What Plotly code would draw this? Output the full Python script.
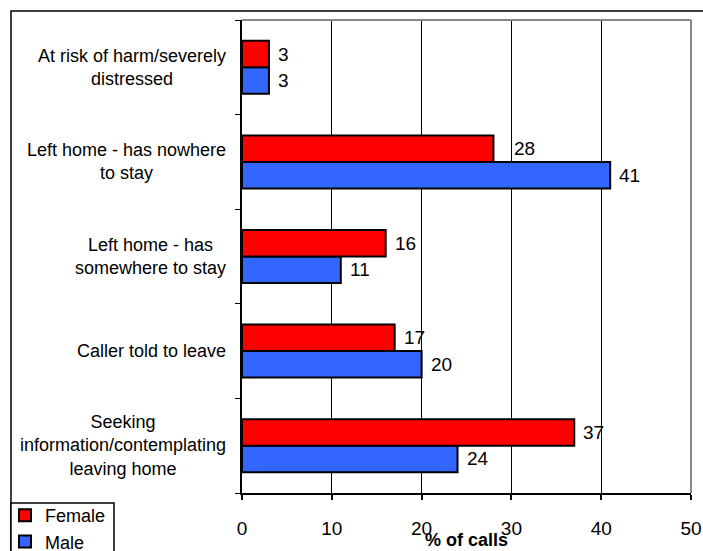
import plotly.graph_objects as go

# ---- data (top-to-bottom as shown in the chart) ----
categories = [
    "At risk of harm/severely distressed",
    "Left home - has nowhere to stay",
    "Left home - has somewhere to stay",
    "Caller told to leave",
    "Seeking information/contemplating leaving home",
]
category_labels = [
    "At risk of harm/severely<br>distressed",
    "Left home - has nowhere<br>to stay",
    "Left home - has<br>somewhere to stay",
    "Caller told to leave",
    "Seeking<br>information/contemplating<br>leaving home",
]
female = [3, 28, 16, 17, 37]
male = [3, 41, 11, 20, 24]
x_ticks = [0, 10, 20, 30, 40, 50]

# plotly draws the first category at the bottom -> reverse
cats_b = categories[::-1]
labels_b = category_labels[::-1]
female_b = female[::-1]
male_b = male[::-1]

FONT = "Arial, Liberation Sans, sans-serif"
W, H = 703, 551
L, R, T, B = 242, 12, 20, 58
pw = W - L - R
ph = H - T - B

def px_x(p):
    return (p - L) / pw

def px_y(p):
    return (H - B - p) / ph

BARGAP = 0.44
half = (1 - BARGAP) / 4  # offset of each bar centre from category centre

fig = go.Figure()
fig.add_trace(go.Bar(
    name="Male", y=cats_b, x=male_b, orientation="h",
    marker=dict(color="#3366FF", line=dict(color="black", width=2)),
    hoverinfo="x+y",
))
fig.add_trace(go.Bar(
    name="Female", y=cats_b, x=female_b, orientation="h",
    marker=dict(color="#FF0000", line=dict(color="black", width=2)),
    hoverinfo="x+y",
))

annotations = []
# value labels
label_nudge = {("Female", 3): 12}  # the "28" label sits further right
for i, (fv, mv) in enumerate(zip(female_b, male_b)):
    for name, v, off in (("Female", fv, half), ("Male", mv, -half)):
        annotations.append(dict(
            x=v, y=i + off, xref="x", yref="y", text=str(v),
            showarrow=False, xanchor="left", yanchor="middle",
            xshift=7 + label_nudge.get((name, i), 0),
            font=dict(family=FONT, size=19, color="black"),
        ))
# category labels
for i, lab in enumerate(labels_b):
    annotations.append(dict(
        x=0, y=i, xref="paper", yref="y", text=lab, showarrow=False,
        xanchor="right", yanchor="middle", align="center", xshift=-14,
        font=dict(family=FONT, size=18, color="black"),
    ))
# axis title
annotations.append(dict(
    x=0.5, y=px_y(540), xref="paper", yref="paper", text="<b>% of calls</b>",
    showarrow=False, xanchor="center", yanchor="middle",
    font=dict(family=FONT, size=18, color="black"),
))

shapes = [
    # plot area border (grey top / right)
    dict(type="line", xref="paper", yref="paper", x0=0, x1=1, y0=1, y1=1,
         line=dict(color="#888888", width=2)),
    dict(type="line", xref="paper", yref="paper", x0=1, x1=1, y0=0, y1=1,
         line=dict(color="#888888", width=2)),
    # outer chart border
    dict(type="rect", xref="paper", yref="paper",
         x0=px_x(11), x1=px_x(720), y0=px_y(570), y1=px_y(11),
         line=dict(color="black", width=1.5), layer="below"),
    # legend box
    dict(type="rect", xref="paper", yref="paper",
         x0=px_x(11), x1=px_x(114), y0=px_y(580), y1=px_y(503),
         line=dict(color="black", width=1.5), fillcolor="white", layer="above"),
]

fig.update_layout(
    width=W, height=H,
    margin=dict(l=L, r=R, t=T, b=B, pad=0, autoexpand=False),
    paper_bgcolor="white", plot_bgcolor="white",
    barmode="group", bargap=BARGAP, bargroupgap=0,
    font=dict(family=FONT, size=18, color="black"),
    showlegend=True,
    legend=dict(
        traceorder="reversed", x=px_x(5), y=px_y(497),
        xanchor="left", yanchor="top",
        bgcolor="rgba(0,0,0,0)", borderwidth=0,
        font=dict(family=FONT, size=18, color="black"),
        tracegroupgap=0,
    ),
    xaxis=dict(
        range=[0, 50], tickvals=x_ticks, ticktext=[str(t) for t in x_ticks],
        showgrid=True, gridcolor="black", gridwidth=1,
        showline=True, linecolor="black", linewidth=1.5,
        ticks="outside", ticklen=5, tickcolor="black", tickwidth=1.5,
        tickfont=dict(family=FONT, size=19, color="black"),
        ticklabelstandoff=12, zeroline=False, fixedrange=True,
        automargin=False,
    ),
    yaxis=dict(
        type="category", categoryorder="array", categoryarray=cats_b,
        range=[-0.5, len(cats_b) - 0.5],
        showline=True, linecolor="black", linewidth=1.5,
        ticks="outside", ticklen=5, tickcolor="black", tickwidth=1,
        tickson="boundaries", showticklabels=False, showgrid=False,
        zeroline=False, fixedrange=True, automargin=False,
    ),
    annotations=annotations,
    shapes=shapes,
)

fig.write_html("out.html")
